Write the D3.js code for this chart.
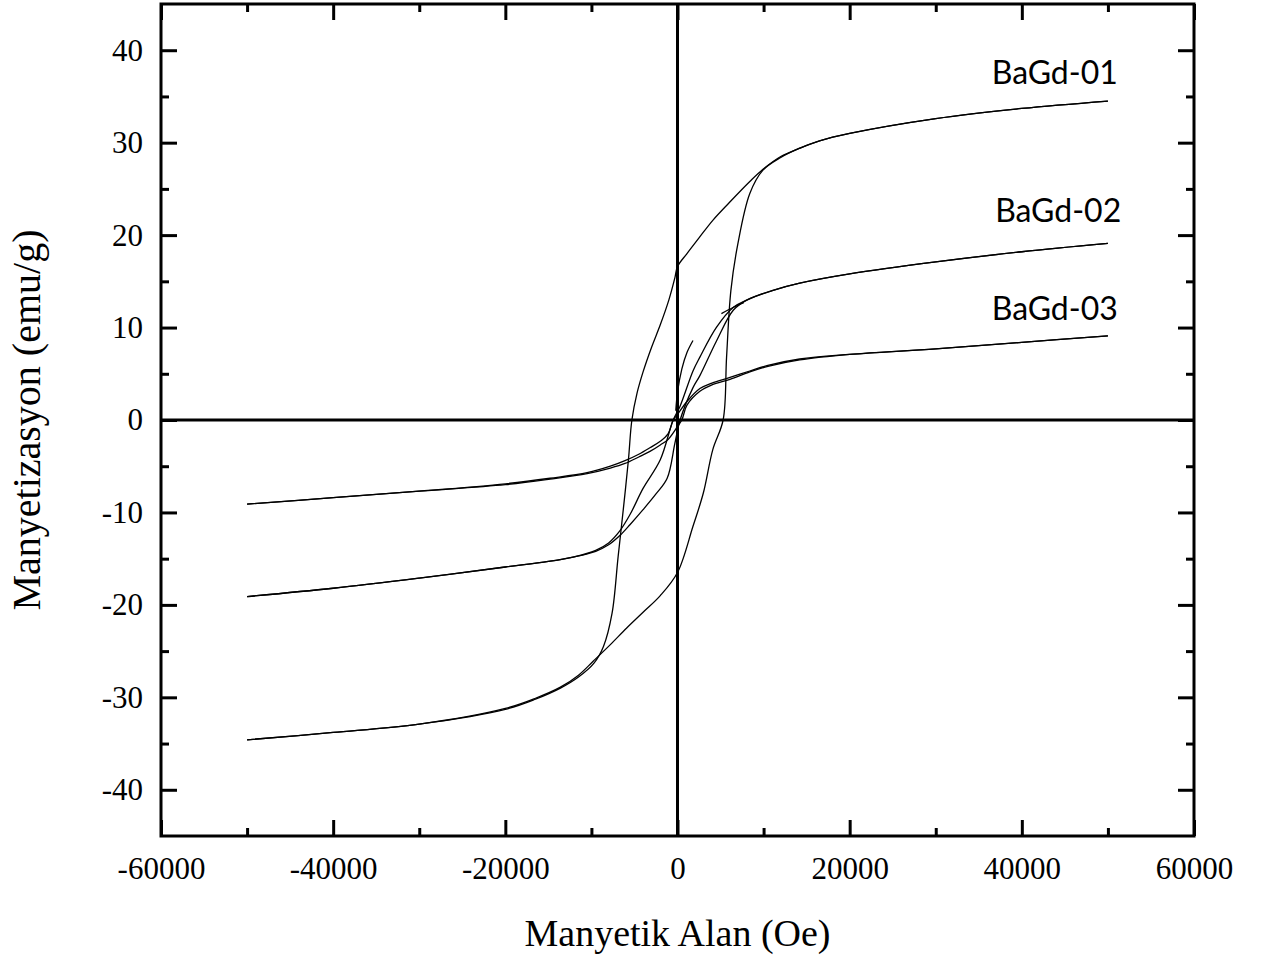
<!DOCTYPE html>
<meta charset="utf-8">
<head>
<style>
  body { margin: 0; background: #fff; }
  .tick text { font-family: "Liberation Serif", "Times New Roman", serif; font-size: 31px; fill: #000; }
  .tick line { stroke: #000; stroke-width: 3px; }
  .axis path { display: none; }
  .loop { fill: none; stroke: #000; stroke-width: 1.3px; }
  .title { font-family: "Liberation Serif", "Times New Roman", serif; font-size: 38px; fill: #000; }
  .label { font-family: Lato, "Open Sans", sans-serif; font-size: 32px; fill: #000; }
</style>
</head>
<body>
<script src="https://d3js.org/d3.v7.min.js"></script>
<script>
// field (Oe), magnetization (emu/g), per branch
var bagd01Down = [[50000,34.5],[40000,33.7],[30000,32.6],[20000,31.0],[16500,30.2],[14200,29.4],[12000,28.5],[9900,27.1],[8400,25.8],[6000,23.5],[4100,21.6],[2500,19.7],[1100,18.0],[0,16.6],[-300,15.4],[-1000,13.0],[-2000,10.3],[-3000,7.9],[-4000,5.2],[-4700,2.9],[-5300,0],[-5700,-4.3],[-6300,-9.7],[-6900,-14.8],[-7600,-20.9],[-8600,-24.5],[-9700,-26.3],[-11500,-27.8],[-13600,-29.0],[-16500,-30.2],[-20000,-31.3],[-30000,-32.9],[-40000,-33.8],[-50000,-34.6]];
var bagd01Up = [[-50000,-34.6],[-40000,-33.8],[-30000,-32.9],[-20000,-31.2],[-16500,-30.1],[-13600,-28.9],[-11500,-27.6],[-9800,-26.1],[-7800,-24.3],[-5900,-22.5],[-4000,-20.8],[-2000,-19.0],[0,-16.5],[1800,-11.5],[3000,-7.9],[4100,-3.2],[5300,0],[5700,6.8],[6200,14.0],[7000,19.0],[8400,24.5],[9900,27.0],[12000,28.4],[14200,29.4],[16500,30.2],[20000,31.0],[30000,32.6],[40000,33.7],[50000,34.5]];
var bagd01Virgin = [[-200,1.0],[0,3.0],[500,5.5],[1100,7.3],[1800,8.6]];

var bagd02Down = [[50000,19.1],[40000,18.2],[30000,17.1],[20000,15.8],[14200,14.8],[11000,14.0],[8100,13.0],[6500,12.2],[4500,10.0],[2600,6.8],[1800,5.3],[300,1.5],[-500,0],[-2000,-4.3],[-4000,-7.4],[-5500,-10.2],[-6700,-12.0],[-8000,-13.3],[-9500,-14.1],[-12000,-14.8],[-15000,-15.3],[-20000,-15.9],[-30000,-17.1],[-40000,-18.2],[-50000,-19.1]];
var bagd02Up = [[-50000,-19.1],[-40000,-18.2],[-30000,-17.1],[-20000,-15.9],[-15000,-15.3],[-12000,-14.8],[-9500,-14.2],[-8000,-13.5],[-6700,-12.5],[-5500,-11.3],[-4000,-9.7],[-2500,-8.0],[-1200,-6.3],[-300,-2.5],[300,0],[1800,3.5],[2600,4.8],[4500,8.5],[6500,11.9],[8100,13.0],[11000,14.0],[14200,14.8],[20000,15.8],[30000,17.1],[40000,18.2],[50000,19.1]];
var bagd02Start = [[5100,11.5],[6500,12.2],[7700,12.7]];

var bagd03Down = [[50000,9.1],[40000,8.4],[30000,7.7],[20000,7.1],[14200,6.6],[10500,5.9],[8400,5.3],[6100,4.6],[4000,4.0],[2600,3.4],[1100,2.0],[0,0.6],[-500,0],[-1100,-1.5],[-2000,-2.3],[-3200,-3.0],[-4500,-3.7],[-6100,-4.4],[-7800,-5.0],[-10500,-5.7],[-14800,-6.3],[-20000,-6.9],[-30000,-7.7],[-40000,-8.4],[-50000,-9.1]];
var bagd03Up = [[-50000,-9.1],[-40000,-8.4],[-30000,-7.7],[-20000,-7.0],[-14800,-6.4],[-10500,-5.8],[-7800,-5.2],[-6100,-4.7],[-4500,-4.0],[-3200,-3.4],[-2000,-2.7],[-1100,-2.1],[0,-0.7],[500,0],[1100,1.6],[2600,3.1],[4000,3.8],[6100,4.4],[8400,5.2],[10500,5.8],[14200,6.5],[20000,7.1],[30000,7.7],[40000,8.4],[50000,9.1]];

var sampleNames = ["BaGd-01", "BaGd-02", "BaGd-03"];
var labelAnchors = [[36500, 36.4], [36900, 21.4], [36500, 10.8]];

var xMajor = [-60000, -40000, -20000, 0, 20000, 40000, 60000];
var xMinor = [-50000, -30000, -10000, 10000, 30000, 50000];
var yMajor = [-40, -30, -20, -10, 0, 10, 20, 30, 40];
var yMinor = [-35, -25, -15, -5, 5, 15, 25, 35];

var W = 1261, H = 960;
var plotL = 161, plotR = 1194, plotT = 4, plotB = 836;

var x = d3.scaleLinear().domain([-60000, 60000]).range([plotL, plotR]);
var y = d3.scaleLinear().domain([-45, 45]).range([plotB, plotT]);

var svg = d3.select("body").append("svg")
    .attr("width", W)
    .attr("height", H);

var fmt = function(d) { return String(d); };

// bottom axis, labelled, ticks inward
svg.append("g").attr("class", "axis")
    .attr("transform", "translate(0," + plotB + ")")
    .call(d3.axisBottom(x).tickValues(xMajor).tickSize(-16).tickPadding(21).tickFormat(fmt));
svg.append("g").attr("class", "axis")
    .attr("transform", "translate(0," + plotB + ")")
    .call(d3.axisBottom(x).tickValues(xMinor).tickSize(-8).tickFormat(""));
// top axis
svg.append("g").attr("class", "axis")
    .attr("transform", "translate(0," + plotT + ")")
    .call(d3.axisTop(x).tickValues(xMajor).tickSize(-16).tickFormat(""));
svg.append("g").attr("class", "axis")
    .attr("transform", "translate(0," + plotT + ")")
    .call(d3.axisTop(x).tickValues(xMinor).tickSize(-8).tickFormat(""));
// left axis, labelled
svg.append("g").attr("class", "axis")
    .attr("transform", "translate(" + plotL + ",0)")
    .call(d3.axisLeft(y).tickValues(yMajor).tickSize(-16).tickPadding(18).tickFormat(fmt));
svg.append("g").attr("class", "axis")
    .attr("transform", "translate(" + plotL + ",0)")
    .call(d3.axisLeft(y).tickValues(yMinor).tickSize(-8).tickFormat(""));
// right axis
svg.append("g").attr("class", "axis")
    .attr("transform", "translate(" + plotR + ",0)")
    .call(d3.axisRight(y).tickValues(yMajor).tickSize(-16).tickFormat(""));
svg.append("g").attr("class", "axis")
    .attr("transform", "translate(" + plotR + ",0)")
    .call(d3.axisRight(y).tickValues(yMinor).tickSize(-8).tickFormat(""));

// frame
svg.append("rect")
    .attr("x", plotL).attr("y", plotT)
    .attr("width", plotR - plotL).attr("height", plotB - plotT)
    .attr("fill", "none").attr("stroke", "#000").attr("stroke-width", 3);

// zero lines
svg.append("line")
    .attr("x1", x(0)).attr("x2", x(0)).attr("y1", plotT).attr("y2", plotB)
    .attr("stroke", "#000").attr("stroke-width", 3);
svg.append("line")
    .attr("x1", plotL).attr("x2", plotR).attr("y1", y(0)).attr("y2", y(0))
    .attr("stroke", "#000").attr("stroke-width", 3);

// loops
var line = d3.line()
    .x(function(d) { return x(d[0]); })
    .y(function(d) { return y(d[1]); })
    .curve(d3.curveCatmullRom.alpha(0.5));

var branches = [bagd01Down, bagd01Up, bagd01Virgin, bagd02Down, bagd02Up, bagd02Start, bagd03Down, bagd03Up];
svg.selectAll(".loop")
    .data(branches)
  .enter().append("path")
    .attr("class", "loop")
    .attr("d", line);

// sample labels
svg.selectAll(".label")
    .data(sampleNames)
  .enter().append("text")
    .attr("class", "label")
    .attr("x", function(d, i) { return x(labelAnchors[i][0]); })
    .attr("y", function(d, i) { return y(labelAnchors[i][1]); })
    .text(function(d) { return d; });

// axis titles
svg.append("text")
    .attr("class", "title")
    .attr("x", (plotL + plotR) / 2)
    .attr("y", 946)
    .attr("text-anchor", "middle")
    .text("Manyetik Alan (Oe)");

svg.append("text")
    .attr("class", "title")
    .attr("transform", "translate(40," + y(0) + ") rotate(-90)")
    .attr("text-anchor", "middle")
    .style("font-size", "40px")
    .text("Manyetizasyon (emu/g)");
</script>
</body>
